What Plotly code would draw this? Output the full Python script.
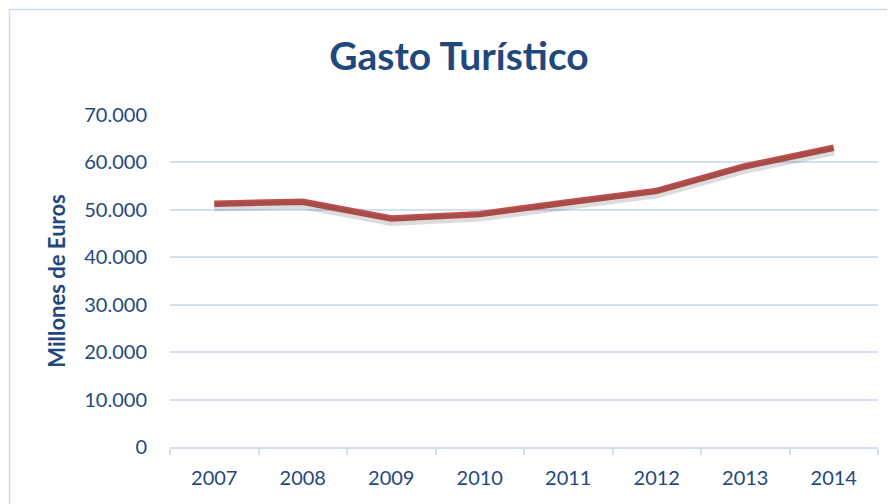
import plotly.graph_objects as go

years = ["2007", "2008", "2009", "2010", "2011", "2012", "2013", "2014"]
gasto = [51300, 51700, 48200, 49100, 51600, 54000, 59200, 63100]

TXT = "#1F497D"
GRID = "#D5E0EE"

OFF = 8  # page body margin
W, H = 895 - OFF, 504 - OFF
L, T = 170 - OFF, 115 - OFF
R = W - (878 - OFF)
B = H - (447 - OFF)
pw, ph = W - L - R, H - T - B

def px_x(x):
    return (x - OFF - L) / pw

def px_y(y):
    return (H - B - (y - OFF)) / ph

fig = go.Figure()
# soft shadow beneath the line
fig.add_trace(go.Scatter(x=years, y=gasto, mode="lines", yaxis="y2",
                         line=dict(color="rgba(60,60,60,0.18)", width=9),
                         hoverinfo="skip", showlegend=False))
fig.add_trace(go.Scatter(x=years, y=gasto, mode="lines",
                         line=dict(color="#C0504D", width=6.5),
                         showlegend=False))

shift = 3 / ph * 70000
fig.update_layout(
    width=W, height=H,
    margin=dict(l=L, r=R, t=T, b=B),
    paper_bgcolor="white", plot_bgcolor="white",
    separators=",.",
    font=dict(family="Lato, Open Sans, sans-serif", color=TXT),
    title=dict(text="<b>Gasto Turístico</b>", x=px_x(459), xref="paper",
               xanchor="center", y=1 - (56 - OFF) / H, yref="container", yanchor="middle",
               font=dict(size=39, color=TXT)),
    xaxis=dict(type="category", range=[-0.5, 7.5], showgrid=False, showline=True,
               linecolor=GRID, linewidth=1.5, ticks="outside", tickson="boundaries",
               ticklen=6, tickcolor=GRID, tickwidth=1.5,
               tickfont=dict(size=20, color=TXT), ticklabelstandoff=12),
    yaxis=dict(range=[0, 70000], dtick=10000, tickformat=",d", showgrid=True,
               gridcolor=GRID, gridwidth=1.5, zeroline=False, showline=False,
               ticks="", tickfont=dict(size=20, color=TXT), ticklabelstandoff=22,
               title=dict(text="<b>Millones de Euros</b>", font=dict(size=22, color=TXT),
                          standoff=12)),
    yaxis2=dict(range=[shift, 70000 + shift], overlaying="y", visible=False),
    shapes=[dict(type="rect", xref="paper", yref="paper",
                 x0=px_x(9.5), x1=px_x(905), y0=px_y(9.5), y1=px_y(515),
                 line=dict(color="#CFDCEC", width=1.5), fillcolor="rgba(0,0,0,0)",
                 layer="below")],
)

fig.write_html("out.html")
